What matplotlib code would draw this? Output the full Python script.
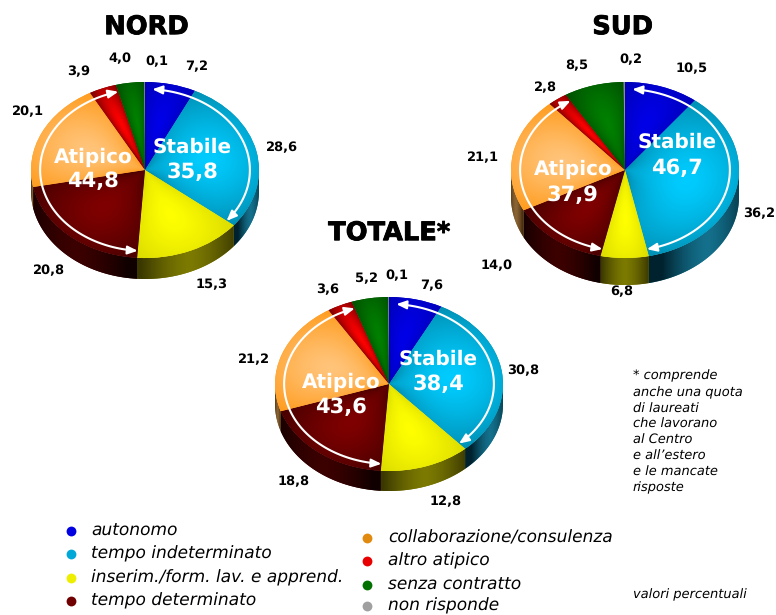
import numpy as np
import matplotlib
matplotlib.use('Agg')
import matplotlib.pyplot as plt
import matplotlib.patheffects as pe
from matplotlib.patches import Polygon, FancyArrowPatch
from matplotlib.path import Path

plt.rcParams['text.hinting'] = 'no_hinting'
plt.rcParams['text.hinting_factor'] = 1

W = 776; H = 615

categories = ['autonomo', 'tempo indeterminato', 'inserim./form. lav. e apprend.', 'tempo determinato',
              'collaborazione/consulenza', 'altro atipico', 'senza contratto', 'non risponde']
nord = [7.2, 28.6, 15.3, 20.8, 20.1, 3.9, 4.0, 0.1]
sud = [10.5, 36.2, 6.8, 14.0, 21.1, 2.8, 8.5, 0.2]
totale = [7.6, 30.8, 12.8, 18.8, 21.2, 3.6, 5.2, 0.1]
stabile = [35.8, 46.7, 38.4]
atipico = [44.8, 37.9, 43.6]
names = ['NORD', 'SUD', 'TOTALE*']

# colori: centro, bordo, fianco
bright = ['#0000e8', '#00ccff', '#ffff00', '#800000', '#ffc47a', '#ff0000', '#008000', '#a0a0a0']
edge = ['#0000b8', '#0090b4', '#dcdc00', '#480000', '#ff9c1e', '#7a0000', '#005000', '#707070']
side = ['#000080', '#14708c', '#7c7a00', '#3c0000', '#8a6434', '#700000', '#003000', '#505050']
side_dark = ['#000030', '#00222e', '#3a3800', '#100000', '#4a3010', '#300000', '#001000', '#202020']
leg_col = ['#0000e0', '#00a8d8', '#eeee00', '#700000', '#e08a10', '#e80000', '#007000', '#a0a0a0']

# posizioni in pixel
centers = [(145, 170), (625, 170), (389, 384)]
rx = 114
ry = [88, 88, 87]
depth = [21, 27, 20]
title_xy = [(147, 27), (623, 27), (390, 233)]
stab_xy = [(192, 147, 172), (677, 142, 168), (438, 359, 384)]
atip_xy = [(93, 157, 181), (573, 169, 195), (341, 382, 407)]
label_xy = [
    [(197, 67), (282, 148), (212, 285), (49, 271), (28, 112), (79, 72), (120, 59), (157, 62)],
    [(692, 69), (759, 214), (622, 292), (497, 266), (483, 158), (545, 88), (577, 66), (631, 60)],
    [(432, 286), (523, 371), (446, 502), (294, 482), (254, 360), (328, 290), (367, 279), (397, 276)],
]


def rgb(c):
    return np.array(matplotlib.colors.to_rgb(c))


def grad(t, c0, c1):
    t = np.clip(t, 0, 1)[..., None]
    return rgb(c0) * (1 - t) + rgb(c1) * t


def draw_pie(values, cx, cy, ry_, dep):
    d = dep / ry_
    m = 1.03
    ax = fig.add_axes([(cx - rx * m) / W, 1 - (cy + ry_ * (m + d)) / H, 2 * rx * m / W, ry_ * (2 * m + d) / H])
    wedges, _ = ax.pie(values, startangle=90, counterclock=False)
    ax.set_aspect('auto')
    ys, xs = np.mgrid[1.03:-1.03 - d:500j, -1.03:1.03:400j]
    r = np.hypot(xs, ys)
    ang = np.degrees(np.arctan2(ys, xs))
    for i, w in enumerate(wedges):
        w.set_facecolor(edge[i])
        w.set_zorder(3)
        mid = (w.theta1 + w.theta2) / 2
        half = max((w.theta2 - w.theta1) / 2, 1)
        da = np.abs((ang - mid + 180) % 360 - 180) / half
        dr = np.abs(r - 0.55) / 0.5
        t = np.hypot(da * 0.75, dr * 0.75) ** 1.5
        im = ax.imshow(grad(t, bright[i], edge[i]), extent=[-1.03, 1.03, -1.03 - d, 1.03], aspect='auto', zorder=4)
        im.set_clip_path(w)
        # fianco visibile
        a0 = max(w.theta1, -180); a1 = min(w.theta2, 0)
        if a1 > a0:
            th = np.radians(np.linspace(a0, a1, 60))
            arc = np.c_[np.cos(th), np.sin(th)]
            bot = arc[::-1] - [0, d]
            poly = Polygon(np.r_[arc, bot], fc=side[i], ec='none', zorder=1)
            ax.add_patch(poly)
            xm = arc[:, 0].mean()
            xh = max(np.ptp(arc[:, 0]) / 2, 0.01)
            t2 = np.abs(xs - xm) / xh
            im2 = ax.imshow(grad(t2 ** 1.5, side[i], side_dark[i]), extent=[-1.03, 1.03, -1.03 - d, 1.03],
                            aspect='auto', zorder=2)
            im2.set_clip_path(poly)
    ax.set_xlim(-1.03, 1.03)
    ax.set_ylim(-1.03 - d, 1.03)
    # archi con frecce
    arcs = [(wedges[0].theta2 - 4, wedges[1].theta1), (wedges[3].theta2, wedges[5].theta1)]
    for a, b in arcs:
        th = np.radians(np.linspace(a, b, 80))
        pts = np.c_[0.92 * np.cos(th), 0.92 * np.sin(th)]
        ax.add_patch(FancyArrowPatch(path=Path(pts), arrowstyle='<|-|>,head_length=6,head_width=2.5',
                                     mutation_scale=1, color='white', lw=1.5, zorder=6))


fig = plt.figure(figsize=(W / 100, H / 100), dpi=100, facecolor='white')

for vals, (cx, cy), ry_, dep in zip([nord, sud, totale], centers, ry, depth):
    draw_pie(vals, cx, cy, ry_, dep)

# testi e legenda sopra a tutto, in coordinate pixel
top = fig.add_axes([0, 0, 1, 1], facecolor='none')
top.set_xlim(0, W)
top.set_ylim(H, 0)
top.axis('off')

heavy = [pe.withStroke(linewidth=0.6, foreground='black')]
for i, vals in enumerate([nord, sud, totale]):
    top.text(title_xy[i][0], title_xy[i][1], names[i], fontsize=18.5, fontweight='bold', ha='center', va='center',
             path_effects=heavy)
    for v, (x, y) in zip(vals, label_xy[i]):
        top.text(x, y, f'{v:.1f}'.replace('.', ','), fontsize=9.5, fontweight='bold', ha='center', va='center')
    x, y1, y2 = stab_xy[i]
    top.text(x, y1, 'Stabile', fontsize=14.5, fontweight='bold', color='white', ha='center', va='center')
    top.text(x, y2, f'{stabile[i]:.1f}'.replace('.', ','), fontsize=15, fontweight='bold', color='white',
             ha='center', va='center')
    x, y1, y2 = atip_xy[i]
    top.text(x, y1, 'Atipico', fontsize=14.5, fontweight='bold', color='white', ha='center', va='center')
    top.text(x, y2, f'{atipico[i]:.1f}'.replace('.', ','), fontsize=15, fontweight='bold', color='white',
             ha='center', va='center')

leg_x = [71] * 4 + [367] * 4
leg_tx = [91] * 4 + [388] * 4
leg_y = [531, 554, 578, 601, 538, 561, 585, 606]
for c, lab, x, tx, y in zip(leg_col, categories, leg_x, leg_tx, leg_y):
    top.scatter(x, y, s=50, color=c, linewidths=0, zorder=5)
    top.scatter(x, y - 0.5, s=14, color=c, alpha=0.6, linewidths=0, zorder=6)
    top.text(tx, y, lab, fontsize=12.1, style='italic', ha='left', va='center')

note = ['* comprende', 'anche una quota', 'di laureati', 'che lavorano', 'al Centro',
        "e all\u2019estero", 'e le mancate', 'risposte']
note_y = [376, 393, 409, 424, 440, 456, 472, 488]
for s, y in zip(note, note_y):
    top.text(633, y, s, fontsize=9.3, style='italic', ha='left', va='center')
top.text(633, 595, 'valori percentuali', fontsize=9.3, style='italic', ha='left', va='center')

fig.savefig('out.png', dpi=100)
